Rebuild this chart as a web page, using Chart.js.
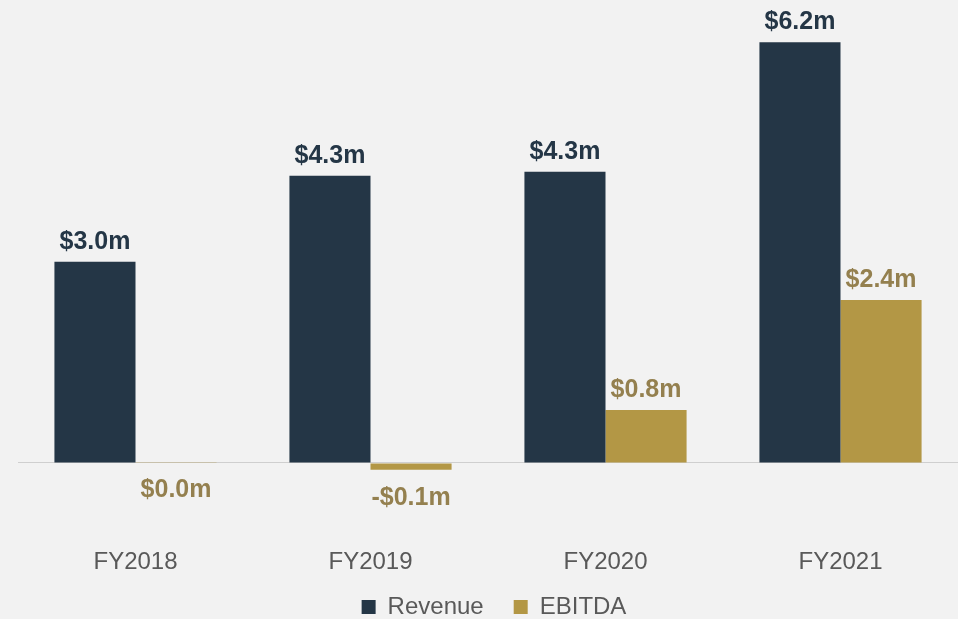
<!DOCTYPE html>
<html>
<head>
<meta charset="utf-8">
<script src="https://cdn.jsdelivr.net/npm/chart.js@4.4.0/dist/chart.umd.min.js"></script>
<style>
  html, body { margin: 0; padding: 0; background: #f2f2f2; }
  #wrap { width: 958px; height: 619px; }
</style>
</head>
<body>
<div id="wrap"><canvas id="chart"></canvas></div>
<script>
const years = ["FY2018", "FY2019", "FY2020", "FY2021"];
const revenue = [3.0, 4.28, 4.34, 6.27];
const ebitda = [0.01, -0.1, 0.79, 2.43];
const revenueLabels = ["$3.0m", "$4.3m", "$4.3m", "$6.2m"];
const ebitdaLabels = ["$0.0m", "-$0.1m", "$0.8m", "$2.4m"];

const navy = "#243646";
const gold = "#b39745";
const goldText = "#94804f";
const font = "'Liberation Sans', Arial, sans-serif";

// value labels above each bar (below for the ones at or under zero)
const barLabels = {
  id: "barLabels",
  afterDatasetsDraw(c) {
    const ctx = c.ctx;
    ctx.save();
    ctx.font = "bold 25px " + font;
    ctx.textAlign = "center";
    ctx.textBaseline = "alphabetic";
    c.data.datasets.forEach((ds, i) => {
      const meta = c.getDatasetMeta(i);
      meta.data.forEach((bar, j) => {
        ctx.fillStyle = i === 0 ? navy : goldText;
        const text = ds.labelsText[j];
        if (i === 1 && ds.data[j] < 0.3) {
          ctx.fillText(text, bar.x, Math.max(bar.y, bar.base) + 35);
        } else {
          ctx.fillText(text, bar.x, bar.y - 13);
        }
      });
    });
    ctx.restore();
  }
};

// pull the legend a bit closer to the axis labels
const legendNudge = {
  id: "legendNudge",
  afterLayout(c) {
    const lg = c.legend;
    lg.top -= 17; lg.bottom -= 17;
    lg.left += 6; lg.right += 6;
  }
};

chart = new Chart(document.getElementById("chart"), {
  type: "bar",
  data: {
    labels: years,
    datasets: [
      { label: "Revenue", data: revenue, labelsText: revenueLabels, backgroundColor: navy },
      { label: "EBITDA", data: ebitda, labelsText: ebitdaLabels, backgroundColor: gold }
    ]
  },
  options: {
    responsive: true,
    maintainAspectRatio: false,
    animation: false,
    layout: { padding: { left: 18, right: 0, top: 0, bottom: -27 } },
    datasets: { bar: { barPercentage: 1, categoryPercentage: 0.69 } },
    plugins: {
      tooltip: { enabled: false },
      legend: {
        position: "bottom",
        labels: {
          boxWidth: 14,
          boxHeight: 14,
          padding: 30,
          color: "#595959",
          font: { family: font, size: 24 }
        }
      }
    },
    scales: {
      x: {
        grid: { display: false, drawTicks: false },
        border: { display: false },
        ticks: {
          color: "#595959",
          padding: 10,
          font: { family: font, size: 24, lineHeight: 0.8 }
        }
      },
      y: {
        min: -1.19,
        max: 6.9,
        border: { display: false },
        ticks: { display: false, stepSize: 1 },
        grid: {
          drawTicks: false,
          lineWidth: 1,
          color: (ctx) => ctx.tick && ctx.tick.value === 0 ? "#cfcfcf" : "transparent"
        }
      }
    }
  },
  plugins: [barLabels, legendNudge]
});
</script>
</body>
</html>
